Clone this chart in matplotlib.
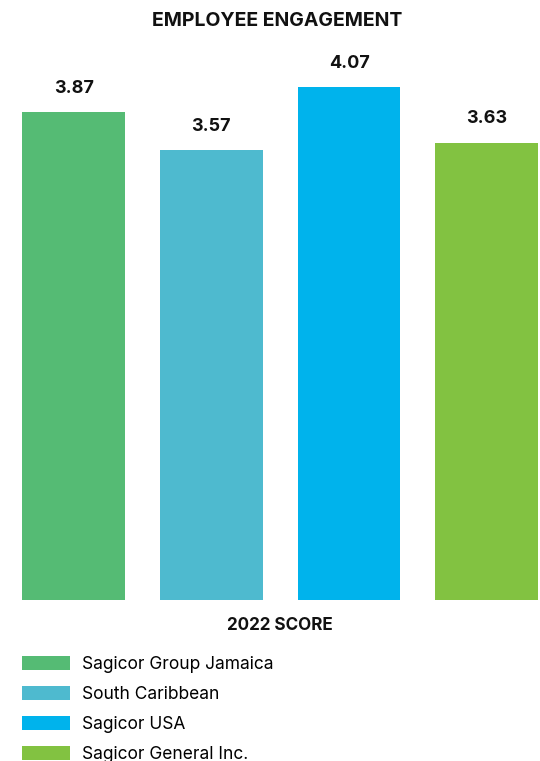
import matplotlib.pyplot as plt
from matplotlib.patches import Patch

plt.rcParams['font.family'] = ['Inter', 'DejaVu Sans']

companies = ["Sagicor Group Jamaica", "South Caribbean", "Sagicor USA", "Sagicor General Inc."]
scores = [3.87, 3.57, 4.07, 3.63]
colors = ["#55BB74", "#4EBACF", "#00B3EC", "#82C241"]

W, H = 540, 761
fig = plt.figure(figsize=(W / 100, H / 100), dpi=100)

# axes placed in pixels: bars start at y=600 px from top, 126 px per unit
ax = fig.add_axes([0, 161 / H, 1, 600 / H])
x = list(range(len(scores)))
ax.bar(x, scores, width=0.746, color=colors)
ax.set_xlim(-73.6 / 137.7, (W - 73.6) / 137.7)
ax.set_ylim(0, 600 / 126)
ax.axis("off")

for xi, v in zip(x, scores):
    ax.annotate(f"{v:.2f}", (xi, v), xytext=(0, 11), textcoords="offset points",
                ha="center", va="bottom", fontsize=13, fontweight="bold", color="#111111")

fig.text(277 / W, 1 - 21 / H, "EMPLOYEE ENGAGEMENT", ha="center", va="center",
         fontsize=14, fontweight="bold", color="#111111")
fig.text(280 / W, 1 - 625 / H, "2022 SCORE", ha="center", va="center",
         fontsize=12.3, fontweight="bold", color="#111111")

handles = [Patch(facecolor=c, label=n) for c, n in zip(colors, companies)]
fig.legend(handles=handles, loc="upper left", bbox_to_anchor=(22 / W, 1 - 656 / H),
           frameon=False, fontsize=12.5, handlelength=2.76, handleheight=0.8,
           handletextpad=0.69, labelspacing=0.75, borderpad=0, borderaxespad=0)

fig.savefig("out.png", dpi=100)
